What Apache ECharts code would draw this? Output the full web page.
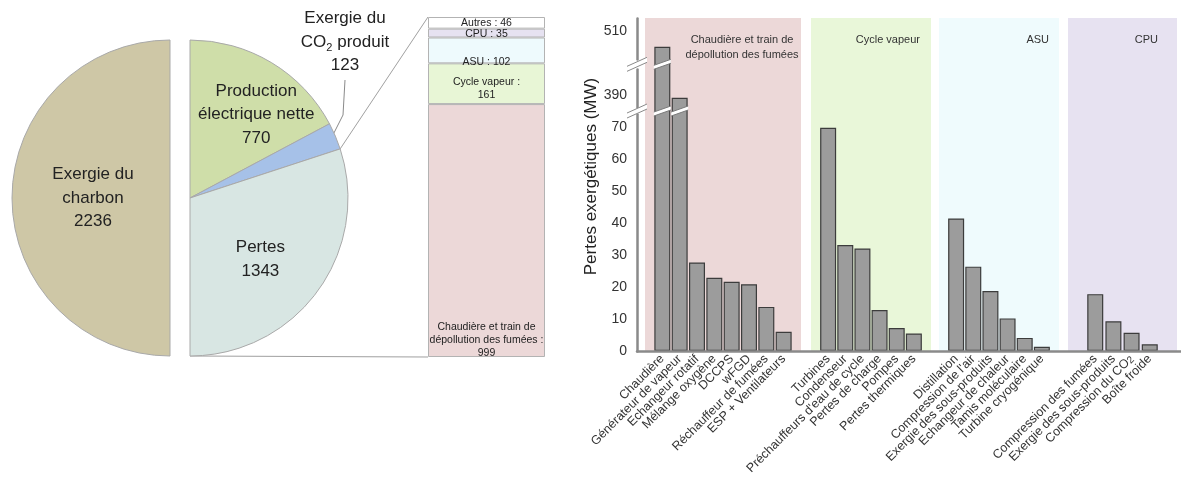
<!DOCTYPE html>
<html><head><meta charset="utf-8">
<script src="https://cdn.jsdelivr.net/npm/echarts@6/dist/echarts.min.js"></script>
<style>html,body{margin:0;padding:0;background:#fff}#c{width:1181px;height:479px}</style>
</head><body><div id="c"></div>
<script>
// ---------------- DATA ----------------
const pieLeftNames = ['Exergie du\ncharbon'];
const pieLeftValues = [2236];
const pieRightNames = ['Production\nélectrique nette', 'Exergie du\nCO₂ produit', 'Pertes'];
const pieRightValues = [770, 123, 1343];

const stackNames = ['Chaudière et train de\ndépollution des fumées', 'Cycle vapeur', 'ASU', 'CPU', 'Autres'];
const stackValues = [999, 161, 102, 35, 46];

const groupNames = ['Chaudière et train de\ndépollution des fumées', 'Cycle vapeur', 'ASU', 'CPU'];
const chaudiereCats = ['Chaudière', 'Générateur de vapeur', 'Echangeur rotatif', 'Mélange oxygène', 'DCCPS', 'wFGD', 'Réchauffeur de fumées', 'ESP + Ventilateurs'];
const chaudiereVals = [505, 389, 27.7, 22.9, 21.7, 20.9, 13.8, 6.0];
const cycleCats = ['Turbines', 'Condenseur', "Préchauffeurs d'eau de cycle", 'Pertes de charge', 'Pompes', 'Pertes thermiques'];
const cycleVals = [69.9, 33.2, 32.1, 12.8, 7.2, 5.5];
const asuCats = ['Distillation', "Compression de l'air", 'Exergie des sous-produits', 'Echangeur de chaleur', 'Tamis moléculaire', 'Turbine cryogénique'];
const asuVals = [41.5, 26.4, 18.8, 10.2, 4.1, 1.3];
const cpuCats = ['Compression des fumées', 'Exergie des sous-produits', 'Compression du CO₂', 'Boîte froide'];
const cpuVals = [17.8, 9.3, 5.7, 2.1];

const yTickLabels = [0, 10, 20, 30, 40, 50, 60, 70, 390, 510];
const yBreaks = [{ start: 74, end: 386, gap: 2.24 }, { start: 398, end: 501, gap: 3 }];
const yMin = 0, yMax = 514, yInterval = 5;
const yAxisName = 'Pertes exergétiques (MW)';

// ---------------- LAYOUT / STYLE ----------------
const FONT = "'Liberation Sans', Arial, sans-serif";
const pieR = 158, pieCY = 198, pieLeftCX = 170, pieRightCX = 190;
const pieLeftColors = ['#cec7a6'];
const pieRightColors = ['#cfdea9', '#a6c1e8', '#d8e6e3'];
const stackBox = { left: 428, top: 17, width: 117, height: 340 };
const stackColors = ['#ecd8d8', '#e8f6d6', '#eefafd', '#e6e2f1', '#ffffff'];
const plotTop = 18, plotBottom = 128, axisLeft = 637;
const bands = [
  { left: 645, width: 156, pad: 1, boundaryGap: false, color: '#ecd8d8', labelAlign: 'center', labelDx: -59 },
  { left: 811, width: 120, pad: 1, boundaryGap: false, color: '#e9f7d9', labelAlign: 'right', labelDx: -11 },
  { left: 939, width: 120, pad: 1, boundaryGap: false, color: '#effbfd', labelAlign: 'right', labelDx: -10 },
  { left: 1068, width: 109, pad: 1, boundaryGap: true, color: '#e7e2f1', labelAlign: 'right', labelDx: -19 }
];
const groupCats = [chaudiereCats, cycleCats, asuCats, cpuCats];
const groupVals = [chaudiereVals, cycleVals, asuVals, cpuVals];
const barW = 16;

const sum = a => a.reduce((s, v) => s + v, 0);
const subRich = { sub: { fontSize: 10, verticalAlign: 'bottom' } };

const chart = echarts.init(document.getElementById('c'), null, { renderer: 'canvas' });

// ---------- grids / axes ----------
const grid = [{ left: axisLeft, right: 0, top: plotTop, bottom: plotBottom, show: false }];
const xAxis = [{
  gridIndex: 0, type: 'value', min: 0, max: 1, z: 5,
  axisLine: { show: true, onZero: true, lineStyle: { color: '#8a8a8a', width: 2.5 } },
  axisTick: { show: false }, axisLabel: { show: false }, splitLine: { show: false }
}];
const yBase = { type: 'value', min: yMin, max: yMax, interval: yInterval, breaks: yBreaks.map(b => ({ ...b })), breakArea: { show: false } };
const yAxis = [{
  ...yBase, gridIndex: 0, z: 5,
  name: yAxisName, nameLocation: 'middle', nameGap: 37,
  nameTextStyle: { fontSize: 17, color: '#222', fontFamily: FONT, padding: [0, 0, 0, 16] },
  axisLine: { show: true, lineStyle: { color: '#8a8a8a', width: 2.5 } },
  axisTick: { show: false }, splitLine: { show: false },
  axisLabel: {
    fontSize: 14, color: '#333', margin: 10, fontFamily: FONT,
    formatter: v => (yTickLabels.indexOf(Math.round(v * 1000) / 1000) >= 0 ? String(v) : '')
  }
}];
const series = [];

bands.forEach((b, i) => {
  const gi = i + 1;
  const padC = Array(b.pad).fill('');
  const padV = Array(b.pad).fill('-');
  const cats = [...padC, ...groupCats[i], ...padC];
  const vals = [...padV, ...groupVals[i], ...padV];
  grid.push({ left: b.left, width: b.width, top: plotTop, bottom: plotBottom, show: true, backgroundColor: b.color, borderWidth: 0 });
  xAxis.push({
    gridIndex: gi, type: 'category', data: cats, boundaryGap: b.boundaryGap,
    axisLine: { show: false }, axisTick: { show: false }, splitLine: { show: false },
    axisLabel: {
      interval: 0, rotate: 45, fontSize: 12.5, color: '#333', margin: 6, fontFamily: FONT,
      formatter: v => v.replace('₂', '{sub|2}'), rich: subRich
    }
  });
  yAxis.push({ ...yBase, gridIndex: gi, show: false, splitLine: { show: false } });
  series.push({
    type: 'bar', name: groupNames[i], xAxisIndex: gi, yAxisIndex: gi, data: vals, barWidth: barW, z: 2,
    itemStyle: { color: '#9c9c9c', borderColor: '#3c3c3c', borderWidth: 1.2 }, silent: true
  });
  // break marks for bars crossing the axis breaks
  const crossing = [];
  vals.forEach((v, k) => { if (v !== '-' && v > yBreaks[0].start) crossing.push([k, v]); });
  if (crossing.length) {
    series.push({
      type: 'custom', xAxisIndex: gi, yAxisIndex: gi, z: 4, silent: true, data: crossing,
      renderItem: (params, api) => {
        const k = api.value(0), v = api.value(1);
        const xc = api.coord([k, 0])[0];
        const children = [];
        yBreaks.forEach(br => {
          if (v > br.start) {
            const ya = api.coord([k, br.start])[1], yb = api.coord([k, br.end])[1];
            children.push(...stripe(xc, (ya + yb) / 2, barW / 2 + 0.5, 6, 4, '#7a7a7a'));
          }
        });
        return { type: 'group', children };
      }
    });
  }
});

function stripe(xc, yc, hw, rise, sep, col) {
  const y1 = yc + rise / 2, y2 = yc - rise / 2, a = sep / 2;
  return [
    { type: 'polygon', shape: { points: [[xc - hw, y1 + a], [xc + hw, y2 + a], [xc + hw, y2 - a], [xc - hw, y1 - a]] }, style: { fill: '#fff', stroke: null } },
    { type: 'line', shape: { x1: xc - hw, y1: y1 + a, x2: xc + hw, y2: y2 + a }, style: { stroke: col, lineWidth: 1 } },
    { type: 'line', shape: { x1: xc - hw, y1: y1 - a, x2: xc + hw, y2: y2 - a }, style: { stroke: col, lineWidth: 1 } }
  ];
}

// break marks on the y axis itself
series.push({
  type: 'custom', xAxisIndex: 0, yAxisIndex: 0, z: 6, silent: true, data: [[0, yMax]],
  renderItem: (params, api) => {
    const x = params.coordSys.x;
    const children = [];
    yBreaks.forEach(br => {
      const ya = api.coord([0, br.start])[1], yb = api.coord([0, br.end])[1];
      children.push(...stripe(x, (ya + yb) / 2, 10, 9, 5, '#8a8a8a'));
    });
    return { type: 'group', children };
  }
});

// ---------- stacked bar (breakdown of losses) ----------
const gs = grid.length;
grid.push({ left: stackBox.left, top: stackBox.top, width: stackBox.width, height: stackBox.height, show: false });
xAxis.push({ gridIndex: gs, type: 'category', data: ['Pertes'], show: false });
yAxis.push({ gridIndex: gs, type: 'value', min: 0, max: sum(stackValues), show: false, splitLine: { show: false } });
const stackLabelCfg = [
  { position: 'insideBottom', distance: -3, sep: '\n' },
  { position: 'insideTop', distance: 12, sep: '\n' },
  { position: 'insideBottom', distance: -5, sep: ' ' },
  { position: 'inside', distance: 0, sep: ' ', dy: 1.5 },
  { position: 'inside', distance: 0, sep: ' ' }
];
stackNames.forEach((n, i) => {
  series.push({
    type: 'bar', name: n, xAxisIndex: gs, yAxisIndex: gs, stack: 'pertes', barWidth: '100%', silent: true,
    data: [stackValues[i]],
    itemStyle: { color: stackColors[i], borderColor: '#b3b3b3', borderWidth: 1 },
    label: {
      show: true, position: stackLabelCfg[i].position, distance: stackLabelCfg[i].distance,
      offset: [0, stackLabelCfg[i].dy || 0],
      fontSize: 10.5, lineHeight: 13, color: '#222', fontFamily: FONT, align: 'center',
      formatter: p => p.seriesName + ' :' + stackLabelCfg[i].sep + p.value
    }
  });
});

// ---------- pies ----------
const pieLabel = { position: 'inside', fontSize: 17, lineHeight: 23.5, color: '#222', fontFamily: FONT, formatter: '{b}\n{c}' };
series.push({
  type: 'pie', center: [pieLeftCX, pieCY], radius: pieR, startAngle: 90, clockwise: true, silent: true,
  avoidLabelOverlap: false, label: pieLabel, labelLine: { show: false },
  itemStyle: { borderColor: '#a9a9a9', borderWidth: 1 },
  labelLayout: p => (p.dataIndex === 1 ? { dx: 5, dy: 0 } : {}),
  data: [
    { value: sum(pieRightValues), name: '', itemStyle: { color: 'rgba(0,0,0,0)', borderWidth: 0 }, label: { show: false } },
    ...pieLeftValues.map((v, i) => ({ value: v, name: pieLeftNames[i], itemStyle: { color: pieLeftColors[i] } }))
  ]
});
const rightLayout = [{ dx: 24, dy: -13 }, null, { dx: 4, dy: 13 }];
series.push({
  type: 'pie', center: [pieRightCX, pieCY], radius: pieR, startAngle: 90, clockwise: true, silent: true,
  avoidLabelOverlap: false, label: pieLabel, labelLine: { show: false },
  itemStyle: { borderColor: '#a9a9a9', borderWidth: 1 },
  labelLayout: p => {
    if (p.dataIndex === 1) {
      const s = p.labelLinePoints ? p.labelLinePoints[0] : [332, 140];
      return { x: 345, y: 42, align: 'center', verticalAlign: 'middle',
        labelLinePoints: [[s[0] - 4, s[1] + 2], [343, 115], [345, 80]] };
    }
    return rightLayout[p.dataIndex] || {};
  },
  data: [
    ...pieRightValues.map((v, i) => {
      const d = { value: v, name: pieRightNames[i], itemStyle: { color: pieRightColors[i] } };
      if (i === 1) {
        d.label = { position: 'outside', formatter: p => p.name.replace('₂', '{sub|2}') + '\n' + p.value,
          rich: { sub: { fontSize: 11, verticalAlign: 'bottom', color: '#222', fontFamily: FONT } } };
        d.labelLine = { show: true, length: 10, length2: 10, lineStyle: { color: '#8a8a8a', width: 1 } };
      }
      return d;
    }),
    { value: sum(pieLeftValues), name: '', itemStyle: { color: 'rgba(0,0,0,0)', borderWidth: 0 }, label: { show: false }, labelLine: { show: false } }
  ]
});

// ---------- connector lines & band titles ----------
const ang = sum(pieRightValues.slice(0, 2)) / sum(pieRightValues) * Math.PI;
const bx = pieRightCX + pieR * Math.sin(ang), by = pieCY - pieR * Math.cos(ang);
const graphic = [
  { type: 'line', silent: true, z: 1, shape: { x1: bx, y1: by, x2: stackBox.left, y2: stackBox.top }, style: { stroke: '#a0a0a0', lineWidth: 1 } },
  { type: 'line', silent: true, z: 1, shape: { x1: pieRightCX, y1: pieCY + pieR, x2: stackBox.left, y2: stackBox.top + stackBox.height }, style: { stroke: '#a0a0a0', lineWidth: 1 } }
];
bands.forEach((b, i) => {
  graphic.push({
    type: 'text', silent: true, z: 10, x: b.left + b.width + b.labelDx, y: plotTop + 14,
    style: { text: groupNames[i], fontSize: 11, lineHeight: 15, fill: '#333', fontFamily: FONT, align: b.labelAlign, verticalAlign: 'top' }
  });
});

chart.setOption({
  animation: false,
  backgroundColor: '#fff',
  textStyle: { fontFamily: FONT },
  grid, xAxis, yAxis, series, graphic
});
</script>
</body></html>
